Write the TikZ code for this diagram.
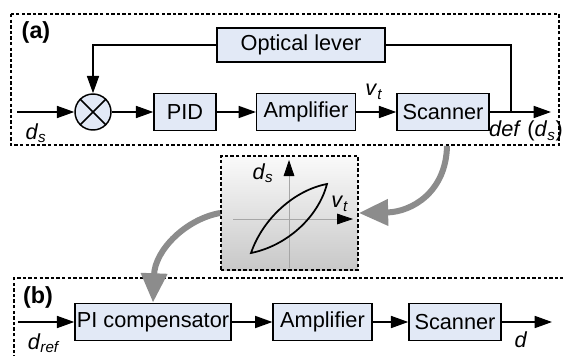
\documentclass[tikz,border=0pt]{standalone}
\usepackage{fontspec}
\setmainfont{Liberation Sans}
\usetikzlibrary{arrows.meta,positioning}

\tikzset{
  blk/.style={draw, line width=1.1pt, fill={rgb,255:red,226;green,233;blue,246}, minimum height=28pt, inner sep=0pt, font=\fontsize{16.3}{19}\selectfont},
  lbl/.style={font=\fontsize{16.3}{19}\selectfont},
  sig/.style={line width=1.3pt, -{Triangle[length=13pt,width=9pt]}},
  frm/.style={line width=1.2pt, dash pattern={on 2.6pt off 1.6pt}},
  grey arrow/.style={line width=4.5pt, color={rgb,255:red,140;green,140;blue,140}, -{Triangle[length=22pt,width=19pt]}},
}

\begin{document}
\begin{tikzpicture}[x=0.75pt,y=0.75pt,yscale=-1]
\useasboundingbox (0,0) rectangle (563,356);

%Frames
\draw [frm] (11,14) rectangle (559,145);
\draw [frm] (14,370) -- (14,278) -- (570,278);

% Text Node
\draw (36,32) node [lbl, font=\fontsize{17.5}{20}\selectfont] {\textbf{(a)}};
% Text Node
\draw (38,297) node [lbl, font=\fontsize{17.5}{20}\selectfont] {\textbf{(b)}};

%Blocks of (a)
\draw (301,45) node [blk, minimum width=126pt, minimum height=25.5pt] (lever) {Optical lever};
\draw (93,112) node [circle, draw, line width=1.1pt, fill={rgb,255:red,226;green,233;blue,246}, minimum size=27pt, inner sep=0pt] (sum) {};
\draw [line width=1.1pt] (sum.north west) -- (sum.south east) (sum.north east) -- (sum.south west);
\draw (185,112) node [blk, minimum width=46.5pt] (pidA) {PID};
\draw (306,112) node [blk, minimum width=74pt] (ampA) {Amplifier};
\draw (443,112) node [blk, minimum width=69pt] (scanA) {Scanner};
\coordinate (inA) at (17,112);
\coordinate (tapA) at (511,112);
\coordinate (outA) at (551,112);

%Straight Lines of (a)
\draw [sig] (inA) -- (sum);
\draw [sig] (sum) -- (pidA);
\draw [sig] (pidA) -- (ampA);
\draw [sig] (ampA) -- (scanA);
\draw [sig] (scanA) -- (outA);
\draw [line width=1.3pt] (tapA) |- (lever.east);
\draw [sig] (lever.west) -| (sum.north);

% Text Node
\draw (36,133) node [lbl] {\textit{d}\textsubscript{\textit{s}}};
% Text Node
\draw (374,92) node [lbl] {\textit{v}\textsubscript{\textit{t}}};
% Text Node
\draw (526,131) node [lbl] {\textit{def} (\textit{d}\textsubscript{\textit{s}})};

%Hysteresis inset
\draw (289.5,213) node [frm, draw, top color={rgb,255:red,250;green,250;blue,250}, bottom color={rgb,255:red,200;green,200;blue,200}, minimum width=102.75pt, minimum height=85.5pt, inner sep=0pt] (hyst) {};
\draw [line width=0.6pt, gray!70, -{Triangle[length=12pt,width=8pt,black]}] (233,219) -- (353,219);
\draw [line width=0.6pt, gray!70, -{Triangle[length=12pt,width=8pt,black]}] (289,268) -- (289,160);
\draw [line width=1.3pt] (251,253) .. controls (263,218) and (295,190) .. (327,184) .. controls (318,218) and (286,246) .. cycle;
% Text Node
\draw (263,173) node [lbl] {\textit{d}\textsubscript{\textit{s}}};
% Text Node
\draw (340,204) node [lbl] {\textit{v}\textsubscript{\textit{t}}};

%Blocks of (b)
\draw (153,322) node [blk, minimum width=117pt] (piB) {PI compensator};
\draw (322.5,322) node [blk, minimum width=74pt] (ampB) {Amplifier};
\draw (455,322) node [blk, minimum width=69pt] (scanB) {Scanner};
\coordinate (inB) at (18,322);
\coordinate (outB) at (552,322);

%Straight Lines of (b)
\draw [sig] (inB) -- (piB);
\draw [sig] (piB) -- (ampB);
\draw [sig] (ampB) -- (scanB);
\draw [sig] (scanB) -- (outB);

% Text Node
\draw (44,343) node [lbl] {\textit{d}\textsubscript{\textit{ref}}};
% Text Node
\draw (521,340) node [lbl] {\textit{d}};

%Curve Lines
\coordinate (fromA) at (447,146);
\draw [grey arrow] (fromA) .. controls (446,192) and (412,212) .. (hyst.east);
\draw [grey arrow] (hyst.west) .. controls (186,219) and (155,250) .. (piB.north);

\end{tikzpicture}
\end{document}
